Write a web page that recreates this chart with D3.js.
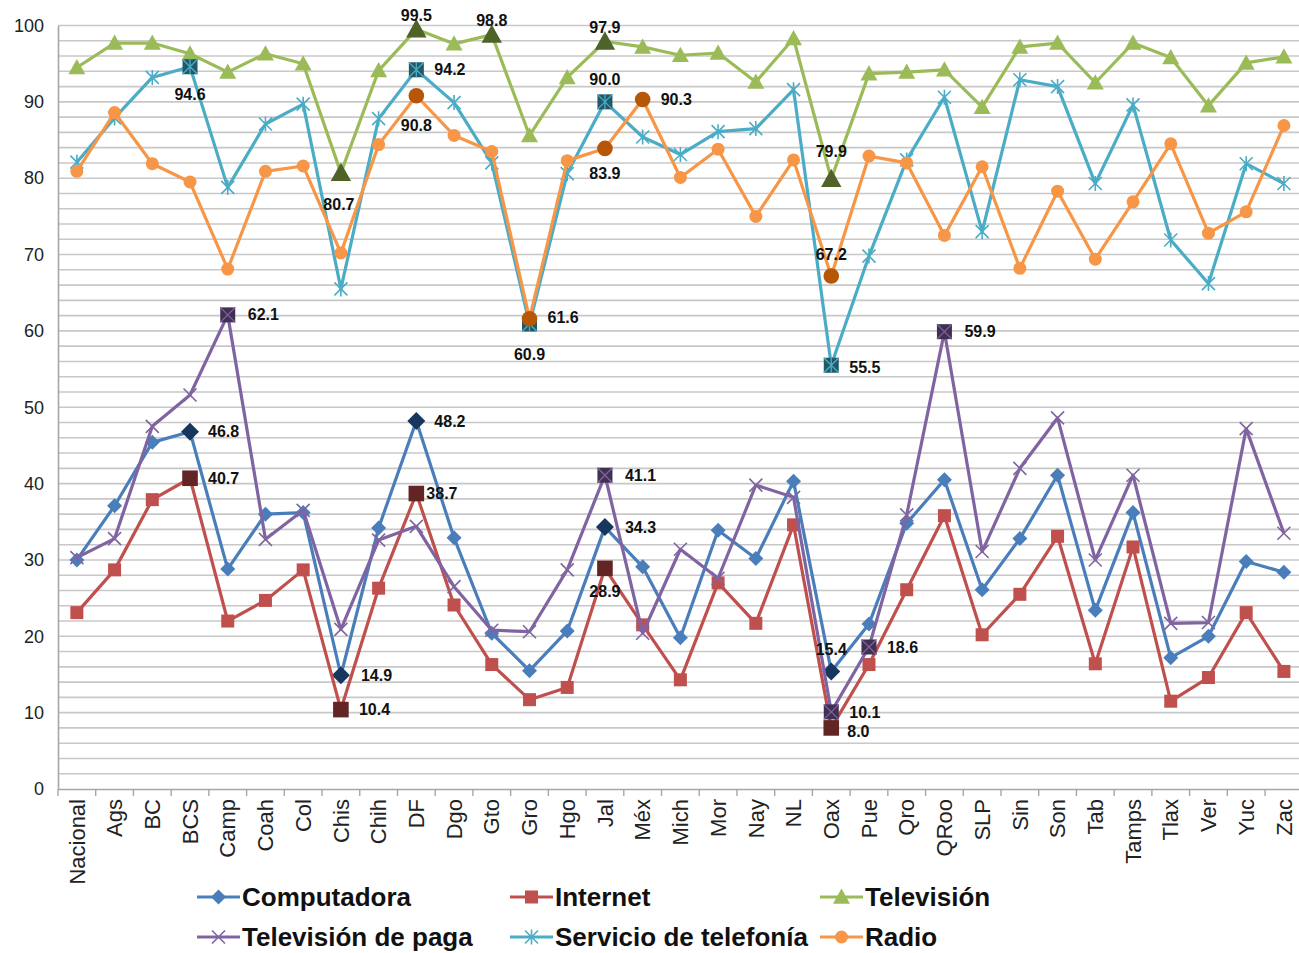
<!DOCTYPE html>
<html><head><meta charset="utf-8">
<script src="https://cdn.jsdelivr.net/npm/d3@7"></script>
<style>body{margin:0;background:#fff}svg{display:block}</style>
</head><body><svg id="c" width="1299" height="953"></svg>
<script>
const categories = ["Nacional","Ags","BC","BCS","Camp","Coah","Col","Chis","Chih","DF","Dgo","Gto","Gro","Hgo","Jal","Méx","Mich","Mor","Nay","NL","Oax","Pue","Qro","QRoo","SLP","Sin","Son","Tab","Tamps","Tlax","Ver","Yuc","Zac"];
const computadora = [30.0,37.1,45.4,46.8,28.8,36.0,36.2,14.9,34.2,48.2,32.9,20.4,15.5,20.7,34.3,29.1,19.8,33.9,30.2,40.3,15.4,21.6,34.8,40.5,26.1,32.8,41.1,23.4,36.2,17.2,20.0,29.8,28.4];
const internet = [23.1,28.7,37.9,40.7,22.0,24.7,28.7,10.4,26.3,38.7,24.1,16.3,11.7,13.3,28.9,21.5,14.3,27.0,21.7,34.6,8.0,16.3,26.1,35.8,20.2,25.5,33.1,16.4,31.7,11.5,14.6,23.1,15.4];
const television = [94.5,97.7,97.7,96.3,93.9,96.3,95.0,80.7,94.1,99.5,97.6,98.8,85.6,93.2,97.9,97.2,96.1,96.4,92.6,98.3,79.9,93.7,93.9,94.2,89.3,97.2,97.7,92.5,97.7,95.8,89.5,95.1,95.9];
const tvPaga = [30.3,32.8,47.5,51.6,62.1,32.7,36.5,20.9,32.6,34.4,26.5,20.8,20.6,28.7,41.1,20.4,31.4,27.6,39.8,38.2,10.1,18.6,35.9,59.9,31.1,42.0,48.6,30.0,41.1,21.7,21.8,47.2,33.5];
const telefonia = [82.1,87.9,93.2,94.6,78.8,87.1,89.7,65.5,87.8,94.2,89.9,82.0,60.9,80.6,90.0,85.4,83.1,86.1,86.5,91.6,55.5,69.8,82.4,90.6,73.0,92.9,92.0,79.3,89.6,71.9,66.2,81.9,79.3];
const radio = [80.9,88.6,81.9,79.5,68.1,80.9,81.6,70.2,84.4,90.8,85.6,83.5,61.6,82.3,83.9,90.3,80.1,83.8,75.0,82.4,67.2,82.9,82.0,72.5,81.5,68.2,78.3,69.4,76.9,84.5,72.8,75.6,86.9];
const yTicks = [0,10,20,30,40,50,60,70,80,90,100];
const seriesNames = ["Computadora","Internet","Televisión","Televisión de paga","Servicio de telefonía","Radio"];
// labelled categories per series
const labComputadora = ["BCS","Chis","DF","Jal","Oax"];
const labInternet = ["BCS","Chis","DF","Jal","Oax"];
const labTelevision = ["Chis","DF","Gto","Jal","Oax"];
const labTvPaga = ["Camp","Jal","Oax","Pue","QRoo"];
const labTelefonia = ["BCS","DF","Gro","Jal","Oax"];
const labRadio = ["DF","Gro","Jal","Méx","Oax"];

const svg = d3.select("#c");
const left = 58, bw = 37.72;
const x = d3.scaleBand().domain(categories).range([left, left + bw*categories.length]).paddingInner(0).paddingOuter(0);
const y = d3.scaleLinear().domain([0,100]).range([789, 25.5]);
const cx = c => x(c) + x.bandwidth()/2;

// gridlines every 2
const grid = d3.range(2, 101, 2);
svg.append("g").selectAll("line").data(grid).join("line")
  .attr("x1", left).attr("x2", 1299).attr("y1", d=>y(d)).attr("y2", d=>y(d))
  .attr("stroke", "#c8c8c8").attr("stroke-width", 1.6);

// axes
const yAxis = d3.axisLeft(y).tickValues(yTicks).tickSize(0).tickPadding(14);
const gy = svg.append("g").attr("transform", `translate(${left},0)`).call(yAxis);
gy.select(".domain").attr("stroke", "#a6a6a6").attr("stroke-width", 1.6);
gy.selectAll("text").attr("font-family", "Liberation Sans, Arial, sans-serif").attr("font-size", 18).attr("fill", "#222");

const xAxis = d3.axisBottom(x).tickSize(0).tickPadding(0);
const gx = svg.append("g").attr("transform", `translate(0,${y(0)})`).call(xAxis);
gx.select(".domain").attr("stroke", "#a6a6a6").attr("stroke-width", 1.6);
// boundary ticks
gx.append("g").selectAll("line").data(d3.range(categories.length+1)).join("line")
  .attr("x1", i=>left+i*bw).attr("x2", i=>left+i*bw).attr("y1", 0).attr("y2", 7)
  .attr("stroke", "#a6a6a6").attr("stroke-width", 1.4);
gx.selectAll(".tick text")
  .attr("font-family", "Liberation Sans, Arial, sans-serif").attr("font-size", 22).attr("fill", "#222")
  .attr("text-anchor", "end").attr("dy", "0.35em")
  .attr("transform", "translate(0,10) rotate(-90)");

const line = d3.line().x((d,i)=>cx(categories[i])).y(d=>y(d));

const series = [
  {name: seriesNames[0], data: computadora, color:"#4a7ebb", dark:"#17375e", marker:"diamond", hmarker:"diamond", labels: labComputadora},
  {name: seriesNames[1], data: internet, color:"#c0504d", dark:"#632523", marker:"square", hmarker:"square", labels: labInternet},
  {name: seriesNames[2], data: television, color:"#9bbb59", dark:"#4f6228", marker:"triangle", hmarker:"triangle", labels: labTelevision},
  {name: seriesNames[3], data: tvPaga, color:"#8064a2", dark:"#403152", marker:"x", hmarker:"squarex", labels: labTvPaga},
  {name: seriesNames[4], data: telefonia, color:"#4bacc6", dark:"#215968", marker:"star", hmarker:"squarestar", labels: labTelefonia},
  {name: seriesNames[5], data: radio, color:"#f79646", dark:"#b65708", marker:"circle", hmarker:"circle", labels: labRadio}
];

function drawMarker(g, type, px, py, color, big) {
  const s = big ? 1.2 : 1;
  if (type === "diamond") {
    const r = 7.5*s;
    g.append("path").attr("d", `M${px},${py-r}L${px+r},${py}L${px},${py+r}L${px-r},${py}Z`).attr("fill", color);
  } else if (type === "square") {
    const r = 6.5*s;
    g.append("rect").attr("x", px-r).attr("y", py-r).attr("width", 2*r).attr("height", 2*r).attr("fill", color);
  } else if (type === "triangle") {
    const r = 8.5*s;
    g.append("path").attr("d", `M${px},${py-r}L${px+r},${py+r*0.8}L${px-r},${py+r*0.8}Z`).attr("fill", color);
  } else if (type === "circle") {
    g.append("circle").attr("cx", px).attr("cy", py).attr("r", 6.5*s).attr("fill", color);
  } else if (type === "x" || type === "star") {
    const r = 6.5;
    g.append("path").attr("d", `M${px-r},${py-r}L${px+r},${py+r}M${px-r},${py+r}L${px+r},${py-r}` + (type==="star" ? `M${px},${py-r-1}L${px},${py+r+1}` : ""))
      .attr("stroke", color).attr("stroke-width", 1.6).attr("fill", "none");
  } else if (type === "squarex" || type === "squarestar") {
    const r = 7.5;
    g.append("rect").attr("x", px-r).attr("y", py-r).attr("width", 2*r).attr("height", 2*r).attr("fill", color);
    g.append("path").attr("d", `M${px-r},${py-r}L${px+r},${py+r}M${px-r},${py+r}L${px+r},${py-r}` + (type==="squarestar" ? `M${px},${py-r}L${px},${py+r}` : ""))
      .attr("stroke", type==="squarex" ? "#8064a2" : "#4bacc6").attr("stroke-width", 1.3);
  }
}

series.forEach(s => {
  const g = svg.append("g");
  g.append("path").datum(s.data).attr("d", line).attr("fill", "none").attr("stroke", s.color).attr("stroke-width", 3.2).attr("stroke-linejoin", "round");
  s.data.forEach((v,i) => {
    const c = categories[i];
    const hl = s.labels.includes(c);
    drawMarker(g, hl ? s.hmarker : s.marker, cx(c), y(v), hl ? s.dark : s.color, hl);
  });
});

// data label placement (offsets in px relative to the point)
const placement = {
  "Computadora": {BCS:[18,0,"start"], DF:[18,0,"start"], Jal:[20,0,"start"], Chis:[20,0,"start"], Oax:[0,-22,"middle"]},
  "Internet": {BCS:[18,0,"start"], DF:[10,0,"start"], Jal:[0,23,"middle"], Chis:[18,0,"start"], Oax:[16,3,"start"]},
  "Televisión": {DF:[0,-14,"middle"], Gto:[0,-14,"middle"], Jal:[0,-14,"middle"], Chis:[-2,32,"middle"], Oax:[0,-28,"middle"]},
  "Televisión de paga": {Camp:[20,0,"start"], QRoo:[20,0,"start"], Jal:[20,0,"start"], Pue:[18,0,"start"], Oax:[18,1,"start"]},
  "Servicio de telefonía": {BCS:[0,28,"middle"], DF:[18,0,"start"], Jal:[0,-22,"middle"], Gro:[0,30,"middle"], Oax:[18,2,"start"]},
  "Radio": {DF:[0,30,"middle"], Gro:[18,-1,"start"], Jal:[0,25,"middle"], "Méx":[18,0,"start"], Oax:[0,-22,"middle"]}
};
const lg = svg.append("g");
series.forEach(s => {
  s.labels.forEach(c => {
    const i = categories.indexOf(c);
    const p = placement[s.name][c];
    lg.append("text").attr("x", cx(c)+p[0]).attr("y", y(s.data[i])+p[1]).attr("dy","0.35em")
      .attr("text-anchor", p[2]).attr("font-family", "Liberation Sans, Arial, sans-serif")
      .attr("font-weight", "bold").attr("font-size", 16).attr("fill", "#111")
      .text(d3.format(".1f")(s.data[i]));
  });
});

// legend
const legX = [197, 510, 820];
const legY = [897, 937];
series.forEach((s, k) => {
  const lx = legX[k % 3], ly = legY[Math.floor(k/3)];
  const g = svg.append("g");
  g.append("line").attr("x1", lx).attr("x2", lx+43).attr("y1", ly).attr("y2", ly).attr("stroke", s.color).attr("stroke-width", 3.2);
  drawMarker(g, s.marker, lx+21.5, ly, s.color, false);
  g.append("text").attr("x", lx+45).attr("y", ly).attr("dy", "0.35em")
    .attr("font-family", "Liberation Sans, Arial, sans-serif").attr("font-weight", "bold").attr("font-size", 26).attr("fill", "#111")
    .text(s.name);
});
</script></body></html>
